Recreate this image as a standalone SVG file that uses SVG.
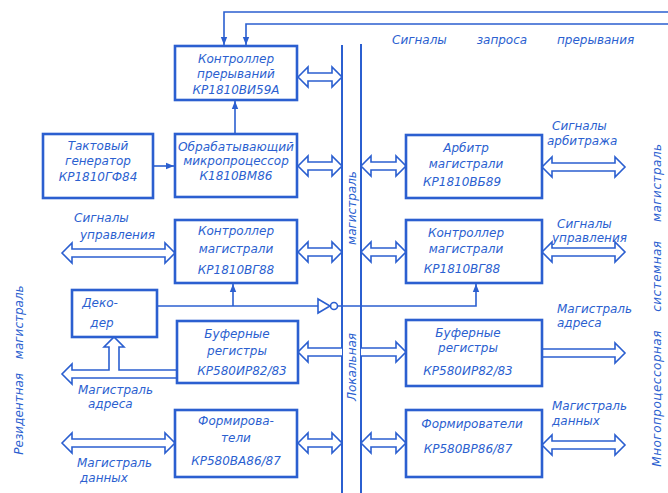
<svg xmlns="http://www.w3.org/2000/svg" width="668" height="493" viewBox="0 0 668 493">
<style>
.box{fill:none;stroke:#2b5fd0;stroke-width:2.6}
.ln{fill:none;stroke:#2b5fd0;stroke-width:1.6}
.bus{fill:none;stroke:#2b5fd0;stroke-width:2}
.ha{fill:#fff;stroke:#2b5fd0;stroke-width:1.6;stroke-linejoin:miter}
text{font-family:"DejaVu Sans","Liberation Sans",sans-serif;font-style:italic;fill:#2b5fd0;font-size:12px}
.c{text-anchor:middle}
</style>
<defs>
<marker id="ah" viewBox="0 0 10 10" refX="10" refY="5" markerWidth="8" markerHeight="8" markerUnits="userSpaceOnUse" orient="auto"><path d="M0 1 L10 5 L0 9 Z" fill="#2b5fd0"/></marker>
</defs>
<rect width="668" height="493" fill="#fff"/>

<g id="connectors">
<line class="bus" x1="342" y1="45" x2="342" y2="493"/>
<line class="bus" x1="361" y1="44" x2="361" y2="493"/>
<path class="ln" d="M668 12 L224 12 L224 45" marker-end="url(#ah)"/>
<path class="ln" d="M668 24 L246 24 L246 45" marker-end="url(#ah)"/>
<path class="ln" d="M153 166 L174 166" marker-end="url(#ah)"/>
<path class="ln" d="M235 133 L235 101" marker-end="url(#ah)"/>
<path class="ln" d="M157 306 L318 306"/>
<path class="ln" d="M318 299 L318 313 L330 306 Z" fill="#fff"/>
<circle class="ln" cx="334" cy="306" r="3.5" fill="#fff"/>
<path class="ln" d="M337.5 306 L476 306 L476 284" marker-end="url(#ah)"/>
<path class="ln" d="M233 306 L233 284" marker-end="url(#ah)"/>
<path class="ha" d="M298 77 L308 67 L308 73 L332 73 L332 67 L342 77 L332 87 L332 81 L308 81 L308 87 Z"/>
<path class="ha" d="M298 166 L308 156 L308 162 L332 162 L332 156 L342 166 L332 176 L332 170 L308 170 L308 176 Z"/>
<path class="ha" d="M298 252 L308 242 L308 248 L332 248 L332 242 L342 252 L332 262 L332 256 L308 256 L308 262 Z"/>
<path class="ha" d="M342 348 L308 348 L308 342 L298 352 L308 362 L308 356 L342 356"/>
<path class="ha" d="M298 443 L308 433 L308 439 L332 439 L332 433 L342 443 L332 453 L332 447 L308 447 L308 453 Z"/>
<path class="ha" d="M361 166 L371 156 L371 162 L396 162 L396 156 L406 166 L396 176 L396 170 L371 170 L371 176 Z"/>
<path class="ha" d="M361 252 L371 242 L371 248 L396 248 L396 242 L406 252 L396 262 L396 256 L371 256 L371 262 Z"/>
<path class="ha" d="M361 348 L396 348 L396 342 L406 352 L396 362 L396 356 L361 356"/>
<path class="ha" d="M361 443 L371 433 L371 439 L396 439 L396 433 L406 443 L396 453 L396 447 L371 447 L371 453 Z"/>
<path class="ha" d="M542 167 L552 157 L552 163 L615 163 L615 157 L625 167 L615 177 L615 171 L552 171 L552 177 Z"/>
<path class="ha" d="M542 252 L552 242 L552 248 L615 248 L615 242 L625 252 L615 262 L615 256 L552 256 L552 262 Z"/>
<path class="ha" d="M542 349 L615 349 L615 343 L625 353 L615 363 L615 357 L542 357"/>
<path class="ha" d="M542 445 L552 435 L552 441 L615 441 L615 435 L625 445 L615 455 L615 449 L552 449 L552 455 Z"/>
<path class="ha" d="M62 253 L72 243 L72 249 L165 249 L165 243 L175 253 L165 263 L165 257 L72 257 L72 263 Z"/>
<path class="ha" d="M62 443 L72 433 L72 439 L165 439 L165 433 L175 443 L165 453 L165 447 L72 447 L72 453 Z"/>
<path class="ha" d="M177 370 L119 370 L119 347 L124 347 L114 337 L104 347 L109 347 L109 370 L72 370 L72 364 L62 374 L72 384 L72 378 L177 378"/>
</g>

<g id="n-int">
<rect class="box" x="175" y="46" width="122" height="54"/>
<text class="c" x="236" y="63">Контроллер</text>
<text class="c" x="236" y="78">прерываний</text>
<text class="c" x="236" y="94">КР1810ВИ59А</text>
</g>
<g id="n-cpu">
<rect class="box" x="175" y="134" width="122" height="63"/>
<text class="c" x="236" y="151" textLength="116" lengthAdjust="spacingAndGlyphs">Обрабатывающий</text>
<text class="c" x="236" y="165">микропроцессор</text>
<text class="c" x="236" y="180">К1810ВМ86</text>
</g>
<g id="n-gen">
<rect class="box" x="43" y="134" width="110" height="64"/>
<text class="c" x="98" y="150">Тактовый</text>
<text class="c" x="98" y="165">генератор</text>
<text class="c" x="98" y="181">КР1810ГФ84</text>
</g>
<g id="n-busctl-l">
<rect class="box" x="175" y="220" width="122" height="63"/>
<text class="c" x="236" y="235">Контроллер</text>
<text class="c" x="236" y="253">магистрали</text>
<text class="c" x="236" y="274">КР1810ВГ88</text>
</g>
<g id="n-dec">
<rect class="box" x="72" y="290" width="85" height="47"/>
<text class="c" x="100" y="307">Деко-</text>
<text class="c" x="102" y="327">дер</text>
</g>
<g id="n-buf-l">
<rect class="box" x="177" y="321" width="121" height="62"/>
<text class="c" x="237" y="338">Буферные</text>
<text class="c" x="237" y="355">регистры</text>
<text class="c" x="242" y="375">КР580ИР82/83</text>
</g>
<g id="n-drv-l">
<rect class="box" x="175" y="410" width="122" height="67"/>
<text class="c" x="236" y="425">Формирова-</text>
<text class="c" x="236" y="442">тели</text>
<text class="c" x="236" y="465">КР580ВА86/87</text>
</g>
<g id="n-arb">
<rect class="box" x="406" y="135" width="136" height="63"/>
<text class="c" x="466" y="152">Арбитр</text>
<text class="c" x="466" y="168">магистрали</text>
<text class="c" x="462" y="186">КР1810ВБ89</text>
</g>
<g id="n-busctl-r">
<rect class="box" x="406" y="220" width="136" height="63"/>
<text class="c" x="466" y="237">Контроллер</text>
<text class="c" x="466" y="253">магистрали</text>
<text class="c" x="462" y="273">КР1810ВГ88</text>
</g>
<g id="n-buf-r">
<rect class="box" x="406" y="320" width="136" height="66"/>
<text class="c" x="468" y="337">Буферные</text>
<text class="c" x="468" y="352">регистры</text>
<text class="c" x="468" y="375">КР580ИР82/83</text>
</g>
<g id="n-drv-r">
<rect class="box" x="406" y="410" width="136" height="67"/>
<text class="c" x="472" y="428">Формирователи</text>
<text class="c" x="468" y="453">КР580ВР86/87</text>
</g>

<g id="labels">
<text x="392" y="44" word-spacing="26" font-size="12.5">Сигналы запроса прерывания</text>
<text x="552" y="130">Сигналы</text>
<text x="547" y="145">арбитража</text>
<text x="557" y="228">Сигналы</text>
<text x="552" y="242">управления</text>
<text x="557" y="313">Магистраль</text>
<text x="557" y="327">адреса</text>
<text x="552" y="410">Магистраль</text>
<text x="552" y="425">данных</text>
<text x="74" y="222">Сигналы</text>
<text x="80" y="239">управления</text>
<text x="78" y="394">Магистраль</text>
<text x="88" y="408">адреса</text>
<text x="77" y="467">Магистраль</text>
<text x="80" y="482">данных</text>
<text class="c" transform="translate(356 208) rotate(-90)">магистраль</text>
<text class="c" transform="translate(356 367) rotate(-90)">Локальная</text>
<text class="c" transform="translate(23 370) rotate(-90)" word-spacing="10">Резидентная магистраль</text>
<text class="c" transform="translate(661 305) rotate(-90)" word-spacing="14" letter-spacing="0.5">Многопроцессорная системная магистраль</text>
</g>
</svg>
